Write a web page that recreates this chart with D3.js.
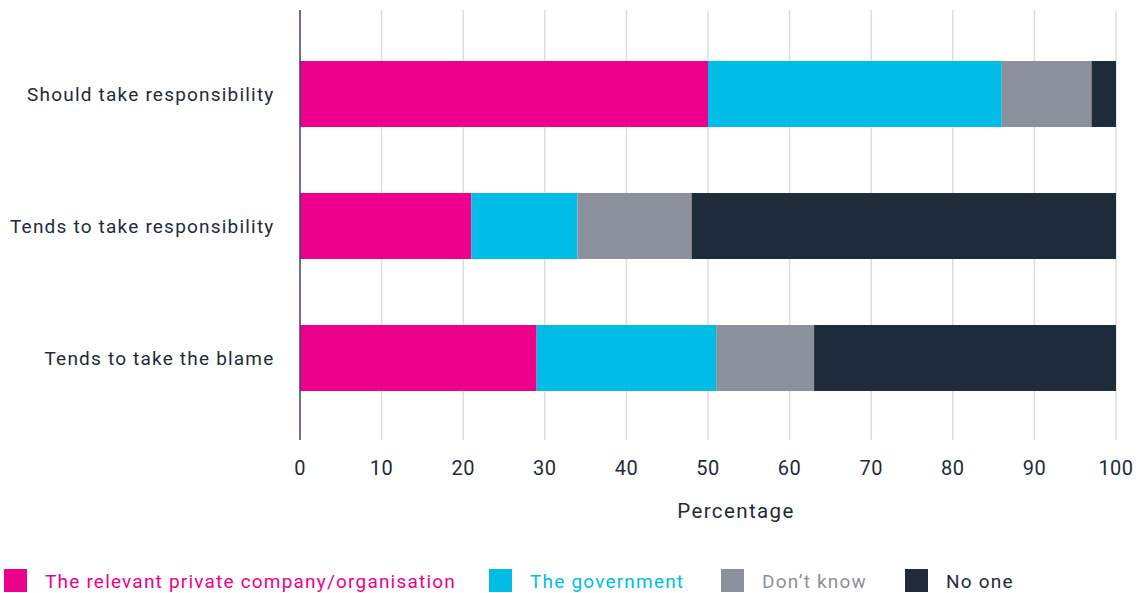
<!DOCTYPE html>
<html><head><meta charset="utf-8">
<script src="https://cdn.jsdelivr.net/npm/d3@7"></script>
<style>body{margin:0;background:#fff;}svg{display:block;font-family:Roboto,"Open Sans",sans-serif;}</style>
</head><body><svg id="c" width="1140" height="593"></svg>
<script>
const categories = ["Should take responsibility","Tends to take responsibility","Tends to take the blame"];
const seriesNames = ["The relevant private company/organisation","The government","Don\u2019t know","No one"];
const privateCo = [50,21,29];
const government = [36,13,22];
const dontKnow = [11,14,12];
const noOne = [3,52,37];
const ticks = [0,10,20,30,40,50,60,70,80,90,100];
const colors = ["#ec008c","#00bce6","#8b909c","#1e2b3a"];

const svg = d3.select("#c");
const x = d3.scaleLinear().domain([0,100]).range([300,1116]);
const y = d3.scaleBand().domain(categories).range([28,424]).paddingInner(0.5).paddingOuter(0.25);

// grid
svg.append("g").selectAll("line").data(ticks.slice(1)).join("line")
  .attr("x1",d=>x(d)).attr("x2",d=>x(d)).attr("y1",10).attr("y2",440)
  .attr("stroke","#dcdbe9").attr("stroke-width",1.5);

const table = categories.map((c,i)=>({cat:c, vals:[privateCo[i],government[i],dontKnow[i],noOne[i]]}));
const stack = d3.stack().keys([0,1,2,3]).value((d,k)=>d.vals[k]);
const layers = stack(table);
svg.append("g").selectAll("g").data(layers).join("g").attr("fill",(d,i)=>colors[i])
  .selectAll("rect").data(d=>d).join("rect")
  .attr("x",d=>x(d[0])).attr("width",d=>x(d[1])-x(d[0]))
  .attr("y",d=>y(d.data.cat)).attr("height",y.bandwidth());

// axis line
svg.append("line").attr("x1",300).attr("x2",300).attr("y1",10).attr("y2",440)
  .attr("stroke","#3b3f78").attr("stroke-width",1.5);

// category labels
svg.append("g").selectAll("text").data(categories).join("text")
  .attr("x",274.5).attr("y",d=>y(d)+y.bandwidth()/2).attr("dy","0.35em")
  .attr("text-anchor","end").attr("fill","#1e2b3a").attr("font-size",19)
  .attr("letter-spacing",1.2).text(d=>d);

// tick labels
svg.append("g").selectAll("text").data(ticks).join("text")
  .attr("x",d=>x(d)).attr("y",475).attr("text-anchor","middle")
  .attr("fill","#1e2b3a").attr("font-size",20).attr("letter-spacing",0.5).text(d=>d);

svg.append("text").attr("x",736).attr("y",518).attr("text-anchor","middle")
  .attr("fill","#1e2b3a").attr("font-size",20.5).attr("letter-spacing",1.4).text("Percentage");

// legend
const legX = [4,489,721,905];
const lg = svg.append("g").selectAll("g").data(seriesNames).join("g")
  .attr("transform",(d,i)=>`translate(${legX[i]},569)`);
lg.append("rect").attr("width",23).attr("height",23).attr("fill",(d,i)=>colors[i]);
lg.append("text").attr("x",41).attr("y",12).attr("dy","0.35em")
  .attr("fill",(d,i)=>colors[i]).attr("font-size",19).attr("letter-spacing",1.2).text(d=>d);
</script></body></html>
